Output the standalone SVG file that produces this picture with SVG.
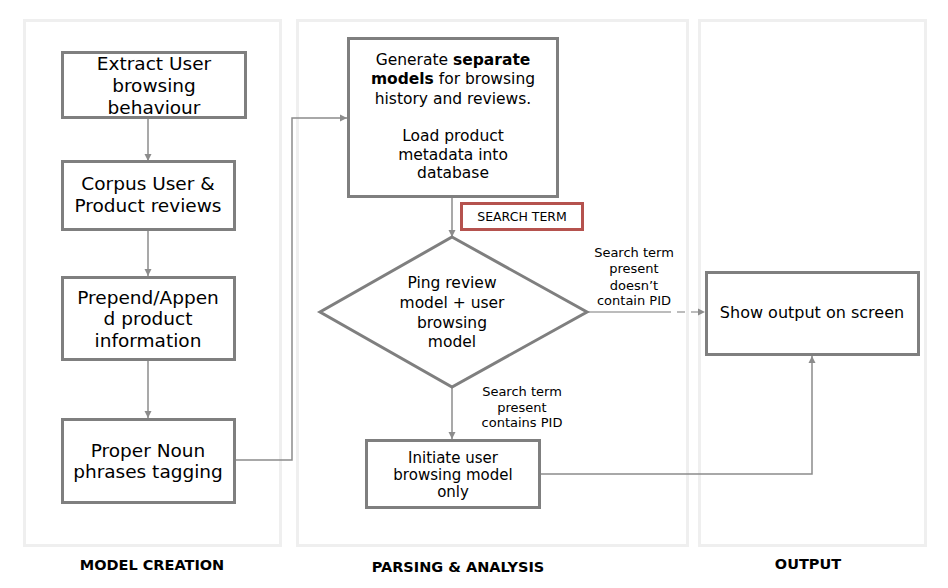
<svg xmlns="http://www.w3.org/2000/svg" width="948" height="588" viewBox="0 0 948 588">
<defs>
<style>
.lane{fill:none;stroke:#efefef;stroke-width:3}
.box{fill:#fff;stroke:#7f7f7f;stroke-width:3}
.t{font-family:"DejaVu Sans",Verdana,sans-serif;fill:#000;text-anchor:middle}
.big{font-size:18.5px}
.mid{font-size:15.5px}
.sm{font-size:13px}
.lbl{font-size:14.5px;font-weight:bold}
.con{fill:none;stroke:#8c8c8c;stroke-width:1.5}
</style>
<marker id="ah" markerWidth="8" markerHeight="8" refX="7" refY="4" orient="auto" markerUnits="userSpaceOnUse">
<path d="M0,0.5 L7,4 L0,7.5 Z" fill="#8c8c8c"/>
</marker>
</defs>
<rect width="948" height="588" fill="#fff"/>
<g id="lanes">
<rect class="lane" x="24.5" y="20.5" width="256" height="525"/>
<rect class="lane" x="297.5" y="20.5" width="390" height="525"/>
<rect class="lane" x="699.5" y="20.5" width="226" height="525"/>
<text class="t lbl" x="152" y="570">MODEL CREATION</text>
<text class="t lbl" x="458" y="572">PARSING &amp; ANALYSIS</text>
<text class="t lbl" x="808" y="569">OUTPUT</text>
</g>
<g id="connectors">
<line class="con" x1="148" y1="117" x2="148" y2="161" marker-end="url(#ah)"/>
<line class="con" x1="148" y1="229" x2="148" y2="276" marker-end="url(#ah)"/>
<line class="con" x1="148" y1="359" x2="148" y2="418" marker-end="url(#ah)"/>
<polyline class="con" points="235,460 292,460 292,118 347,118" marker-end="url(#ah)"/>
<line class="con" x1="452" y1="196" x2="452" y2="237" marker-end="url(#ah)"/>
<line class="con" x1="452" y1="387" x2="452" y2="439" marker-end="url(#ah)"/>
<line class="con" x1="587" y1="312" x2="663" y2="312" style="stroke:#a6a6a6"/>
<line class="con" x1="663" y1="312" x2="705" y2="312" style="stroke:#a6a6a6;stroke-dasharray:8,6" marker-end="url(#ah)"/>
<polyline class="con" points="540,474 812,474 812,356" marker-end="url(#ah)"/>
<text class="t sm" x="522" y="396">Search term</text>
<text class="t sm" x="522" y="412">present</text>
<text class="t sm" x="522" y="427">contains PID</text>
<text class="t sm" x="634" y="257">Search term</text>
<text class="t sm" x="634" y="273">present</text>
<text class="t sm" x="634" y="290">doesn’t</text>
<text class="t sm" x="634" y="305">contain PID</text>
</g>
<g id="n1">
<rect class="box" x="62.5" y="52.5" width="183" height="65"/>
<text class="t big" x="154" y="70">Extract User</text>
<text class="t big" x="154" y="92">browsing</text>
<text class="t big" x="154" y="114">behaviour</text>
</g>
<g id="n2">
<rect class="box" x="62.5" y="161.5" width="172" height="68"/>
<text class="t big" x="148" y="190">Corpus User &amp;</text>
<text class="t big" x="148" y="212">Product reviews</text>
</g>
<g id="n3">
<rect class="box" x="62.5" y="277.5" width="172" height="82"/>
<text class="t big" x="148" y="304">Prepend/Appen</text>
<text class="t big" x="148" y="325">d product</text>
<text class="t big" x="148" y="347">information</text>
</g>
<g id="n4">
<rect class="box" x="62.5" y="419.5" width="172" height="83"/>
<text class="t big" x="148" y="457">Proper Noun</text>
<text class="t big" x="148" y="478">phrases tagging</text>
</g>
<g id="n5">
<rect class="box" x="348.5" y="38.5" width="209" height="158"/>
<text class="t mid" x="453" y="65">Generate <tspan font-weight="bold">separate</tspan></text>
<text class="t mid" x="453" y="84"><tspan font-weight="bold">models</tspan> for browsing</text>
<text class="t mid" x="453" y="104">history and reviews.</text>
<text class="t mid" x="453" y="141">Load product</text>
<text class="t mid" x="453" y="160">metadata into</text>
<text class="t mid" x="453" y="178">database</text>
</g>
<g id="searchterm">
<rect x="461.5" y="203.5" width="121" height="26" fill="#fff" stroke="#b5524e" stroke-width="3"/>
<text class="t" x="522" y="221" font-size="12.5">SEARCH TERM</text>
</g>
<g id="n6">
<polygon class="box" points="452,237 587,312 452,387 320,312"/>
<text class="t" font-size="15.5" x="452" y="288">Ping review</text>
<text class="t" font-size="15.5" x="452" y="308">model + user</text>
<text class="t" font-size="15.5" x="452" y="328">browsing</text>
<text class="t" font-size="15.5" x="452" y="347">model</text>
</g>
<g id="n7">
<rect class="box" x="366.5" y="440.5" width="173" height="67"/>
<text class="t" font-size="15" x="453" y="463">Initiate user</text>
<text class="t" font-size="15" x="453" y="480">browsing model</text>
<text class="t" font-size="15" x="453" y="497">only</text>
</g>
<g id="n8">
<rect class="box" x="706.5" y="272.5" width="212" height="82"/>
<text class="t" font-size="16" x="812" y="318">Show output on screen</text>
</g>
</svg>
